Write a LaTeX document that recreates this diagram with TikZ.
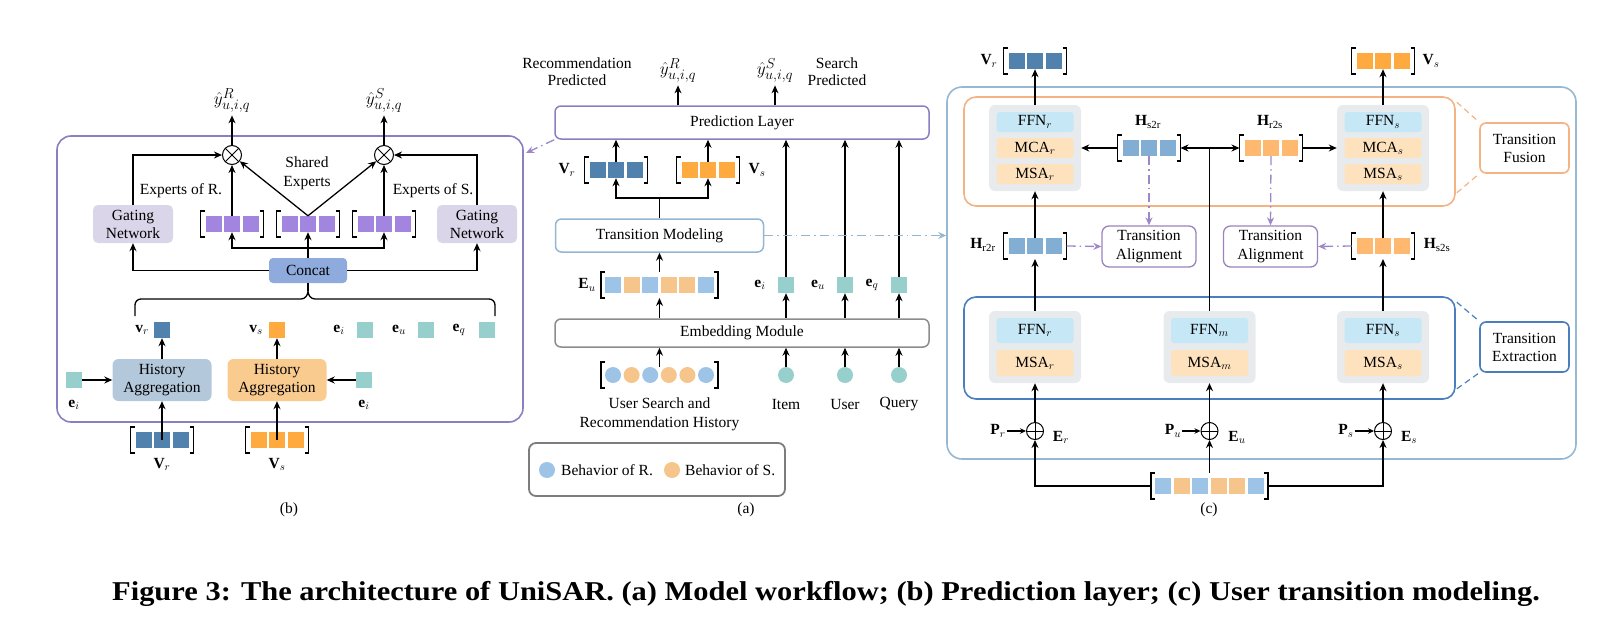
\documentclass[tikz,border=0pt]{standalone}
\usepackage{fontspec}
\setmainfont{Liberation Serif}
\newfontfamily\capfont[FakeStretch=1.12]{Liberation Serif}
\usetikzlibrary{arrows.meta,calc}
\definecolor{purpB}{RGB}{139,127,195}
\definecolor{gateC}{RGB}{218,213,232}
\definecolor{expC}{RGB}{161,133,222}
\definecolor{catC}{RGB}{143,170,220}
\definecolor{histB}{RGB}{180,200,220}
\definecolor{histO}{RGB}{250,203,143}
\definecolor{dBlue}{RGB}{80,130,173}
\definecolor{dOrng}{RGB}{255,170,62}
\definecolor{tealC}{RGB}{151,207,204}
\definecolor{lBlue}{RGB}{157,195,230}
\definecolor{lOrng}{RGB}{245,197,140}
\definecolor{tmC}{RGB}{148,182,208}
\definecolor{embC}{RGB}{140,140,140}
\definecolor{legC}{RGB}{125,125,125}
\definecolor{cOut}{RGB}{150,184,211}
\definecolor{fusC}{RGB}{245,178,130}
\definecolor{extC}{RGB}{74,126,190}
\definecolor{modC}{RGB}{232,235,237}
\definecolor{ffnC}{RGB}{197,231,246}
\definecolor{msaC}{RGB}{253,226,189}
\definecolor{hBlue}{RGB}{130,174,211}
\definecolor{hOrng}{RGB}{255,184,112}
\definecolor{taC}{RGB}{155,131,188}
\definecolor{daC}{RGB}{156,136,201}

\newcommand\vthree[4]{%
 \node[sq,fill=#4] (#1a) at (#2-18.5,#3) {};
 \node[sq,fill=#4] (#1) at (#2,#3) {};
 \node[sq,fill=#4] (#1c) at (#2+18.5,#3) {};
 \coordinate (#1L) at (#2-31.5,#3);
 \coordinate (#1R) at (#2+31.5,#3);
 \coordinate (#1T) at (#2,#3-13);
 \coordinate (#1B) at (#2,#3+13);
 \draw[brk] (#2-27.5,#3-13) -- ++(-4,0) -- ++(0,26) -- ++(4,0);
 \draw[brk] (#2+27.5,#3-13) -- ++(4,0) -- ++(0,26) -- ++(-4,0);
}
\newcommand\vsix[3]{%
 \node[sq,fill=lBlue] (#1a) at (#2-46.5,#3) {};
 \node[sq,fill=lOrng] (#1b) at (#2-27.9,#3) {};
 \node[sq,fill=lBlue] (#1c) at (#2-9.3,#3) {};
 \node[sq,fill=lOrng] (#1d) at (#2+9.3,#3) {};
 \node[sq,fill=lOrng] (#1e) at (#2+27.9,#3) {};
 \node[sq,fill=lBlue] (#1f) at (#2+46.5,#3) {};
 \coordinate (#1L) at (#2-58.5,#3);
 \coordinate (#1R) at (#2+58.5,#3);
 \coordinate (#1T) at (#2,#3-13);
 \coordinate (#1B) at (#2,#3+13);
 \draw[brk] (#2-54.5,#3-13) -- ++(-4,0) -- ++(0,26) -- ++(4,0);
 \draw[brk] (#2+54.5,#3-13) -- ++(4,0) -- ++(0,26) -- ++(-4,0);
}
\newcommand\vcirc[3]{%
 \node[cc,fill=lBlue] (#1a) at (#2-46.5,#3) {};
 \node[cc,fill=lOrng] (#1b) at (#2-27.9,#3) {};
 \node[cc,fill=lBlue] (#1c) at (#2-9.3,#3) {};
 \node[cc,fill=lOrng] (#1d) at (#2+9.3,#3) {};
 \node[cc,fill=lOrng] (#1e) at (#2+27.9,#3) {};
 \node[cc,fill=lBlue] (#1f) at (#2+46.5,#3) {};
 \coordinate (#1T) at (#2,#3-8);
 \draw[brk] (#2-54.5,#3-13) -- ++(-4,0) -- ++(0,26) -- ++(4,0);
 \draw[brk] (#2+54.5,#3-13) -- ++(4,0) -- ++(0,26) -- ++(-4,0);
}

\begin{document}
\begin{tikzpicture}[x=1pt,y=-1pt,
  every node/.style={font=\fontsize{15.5}{18}\selectfont},
  yh/.style={font=\fontsize{19}{22}\selectfont},
  arr/.style={-{Stealth[length=8pt,width=7pt]}, line width=1.3pt},
  arrS/.style={-{Stealth[length=6pt,width=5.5pt]}, line width=1.3pt},
  ln/.style={line width=1.3pt},
  brk/.style={line width=1.4pt},
  dshdt/.style={dash pattern=on 9pt off 4pt on 1.5pt off 4pt},
  sq/.style={minimum size=16pt, inner sep=0pt, draw=none},
  cc/.style={circle, minimum size=16pt, inner sep=0pt, draw=none},
  otim/.style={circle, draw, line width=1pt, minimum size=19pt, inner sep=0pt, fill=white,
    path picture={\draw[line width=1pt] (path picture bounding box.north west) -- (path picture bounding box.south east)
      (path picture bounding box.north east) -- (path picture bounding box.south west);}},
  opls/.style={circle, draw, line width=1pt, minimum size=17pt, inner sep=0pt, fill=white,
    path picture={\draw[line width=1pt] (path picture bounding box.north) -- (path picture bounding box.south)
      (path picture bounding box.east) -- (path picture bounding box.west);}},
  gate/.style={fill=gateC, rounded corners=5pt, minimum width=80pt, minimum height=38pt, align=center, inner sep=1pt},
  hist/.style={rounded corners=6pt, minimum width=99pt, minimum height=42pt, align=center, inner sep=1pt},
  rbox/.style={draw, rounded corners=6pt, line width=1.5pt, fill=white, inner sep=0pt},
  mod/.style={fill=modC, rounded corners=6pt, minimum width=92pt, inner sep=0pt},
  bar/.style={rounded corners=3pt, minimum width=77pt, inner sep=0pt},
  ta/.style={draw=taC, line width=1.3pt, rounded corners=7pt, minimum width=94pt, minimum height=41pt, align=center, inner sep=0pt, font=\fontsize{15.5}{19}\selectfont, fill=white},
  lab/.style={line width=1.6pt, rounded corners=6pt, minimum width=89pt, minimum height=50pt, align=center, inner sep=0pt, font=\fontsize{15.5}{18}\selectfont, fill=white}
]
\useasboundingbox (0,0) rectangle (1616,626);

% ================= Panel (b) =================
\node[draw=purpB, line width=1.6pt, rounded corners=14pt, minimum width=466pt, minimum height=286pt, inner sep=0pt] (boxB) at (290,279) {};
\node[yh] (yRb) at (232,100) {$\hat{y}^{R}_{u,i,q}$};
\node[yh] (ySb) at (384,100) {$\hat{y}^{S}_{u,i,q}$};
\node[otim] (oR) at (232,155) {};
\node[otim] (oS) at (384,155) {};
\draw[arr] (oR) -- (yRb);
\draw[arr] (oS) -- (ySb);
\node[gate] (gL) at (133,224) {Gating\\Network};
\node[gate] (gR) at (477,224) {Gating\\Network};
\draw[arr] (gL.north) |- (oR.west);
\draw[arr] (gR.north) |- (oS.east);
\node (expR) at (181,191) {Experts of R.};
\node (expS) at (433,191) {Experts of S.};
\node[align=center, font=\fontsize{15.5}{19}\selectfont] (expSh) at (307,173.5) {Shared\\Experts};
\vthree{exa}{232}{224}{expC}
\vthree{exb}{308}{224}{expC}
\vthree{exc}{384}{224}{expC}
\draw[arr] (exa.north) -- (oR);
\draw[arr] (exc.north) -- (oS);
\draw[arr] (exb.north) -- (oR);
\draw[arr] (exb.north) -- (oS);
\node[fill=catC, rounded corners=4pt, minimum width=78pt, minimum height=25pt, inner sep=0pt] (cat) at (308,270.5) {Concat};
\coordinate (spB) at (308,248);
\draw[arr] (cat.north) -- (exb.south);
\draw[arr] (spB) -| (exa.south);
\draw[arr] (spB) -| (exc.south);
\draw[arr] (cat.west) -| (gL.south);
\draw[arr] (cat.east) -| (gR.south);
\coordinate (brT) at (308,291);
\draw[ln] (135,316) -- (135,305) to[out=90,in=180] (141,299) -- (301,299) to[out=0,in=-90] (brT) to[out=-90,in=180] (315,299) -- (489,299) to[out=0,in=90] (495,305) -- (495,316);
\draw[ln] (brT) -- (cat.south);
\node (vrl) at (142,330) {$\mathbf{v}_r$};
\node[sq, fill=dBlue] (vr) at (162,330) {};
\node (vsl) at (256,330) {$\mathbf{v}_s$};
\node[sq, fill=dOrng] (vs) at (277,330) {};
\node (eil) at (339,330) {$\mathbf{e}_i$};
\node[sq, fill=tealC] (eib) at (365,330) {};
\node (eul) at (399,330) {$\mathbf{e}_u$};
\node[sq, fill=tealC] (eub) at (426,330) {};
\node (eql) at (459,330) {$\mathbf{e}_q$};
\node[sq, fill=tealC] (eqb) at (487,330) {};
\node[hist, fill=histB] (haL) at (162,380) {History\\Aggregation};
\node[hist, fill=histO] (haR) at (277,380) {History\\Aggregation};
\draw[arr] (haL.north) -- (vr.south);
\draw[arr] (haR.north) -- (vs.south);
\node[sq, fill=tealC] (eiL) at (74,380) {};
\node (eiLl) at (74,405) {$\mathbf{e}_i$};
\node[sq, fill=tealC] (eiR) at (364,380) {};
\node (eiRl) at (364,405) {$\mathbf{e}_i$};
\draw[arr] (eiL.east) -- (haL.west);
\draw[arr] (eiR.west) -- (haR.east);
\vthree{VrB}{162}{440}{dBlue}
\vthree{VsB}{277}{440}{dOrng}
\node (VrBl) at (162,464) {$\mathbf{V}_r$};
\node (VsBl) at (277,464) {$\mathbf{V}_s$};
\draw[arr] (VrB.center) -- (haL.south);
\draw[arr] (VsB.center) -- (haR.south);
\node (capb) at (289,510) {(b)};

% ================= Panel (a) =================
\node[align=center, font=\fontsize{15.5}{17}\selectfont] (recP) at (577,72) {Recommendation\\Predicted};
\node[yh] (yRa) at (678,70) {$\hat{y}^{R}_{u,i,q}$};
\node[yh] (ySa) at (775,70) {$\hat{y}^{S}_{u,i,q}$};
\node[align=center, font=\fontsize{15.5}{17}\selectfont] (seaP) at (837,72) {Search\\Predicted};
\node[rbox, draw=purpB, minimum width=374pt, minimum height=33pt] (PL) at (742,122.5) {Prediction Layer};
\draw[arr] (PL.north -| yRa) -- (yRa);
\draw[arr] (PL.north -| ySa) -- (ySa);
\node (VrAl) at (567,170) {$\mathbf{V}_r$};
\vthree{VrA}{616}{170}{dBlue}
\vthree{VsA}{708}{170}{dOrng}
\node (VsAl) at (757,170) {$\mathbf{V}_s$};
\draw[arr] (VrA.north) -- (VrA.north |- PL.south);
\draw[arr] (VsA.north) -- (VsA.north |- PL.south);
\node[rbox, draw=tmC, minimum width=208pt, minimum height=33pt] (TM) at (659.5,235.5) {Transition Modeling};
\coordinate (spA) at (659.5,198);
\draw[ln] (TM.north) -- (spA);
\draw[arr] (spA) -| (VrA.south);
\draw[arr] (spA) -| (VsA.south);
\node (EuAl) at (587,285) {$\mathbf{E}_u$};
\vsix{EuA}{659.5}{285}
\draw[arr] (EuAT) -- (TM.south);
\node (eiAl) at (760,285) {$\mathbf{e}_i$};
\node[sq,fill=tealC] (eiA) at (786,285) {};
\node (euAl) at (818,285) {$\mathbf{e}_u$};
\node[sq,fill=tealC] (euA) at (845,285) {};
\node (eqAl) at (872,285) {$\mathbf{e}_q$};
\node[sq,fill=tealC] (eqA) at (899,285) {};
\draw[arr] (eiA.north) -- (eiA.north |- PL.south);
\draw[arr] (euA.north) -- (euA.north |- PL.south);
\draw[arr] (eqA.north) -- (eqA.north |- PL.south);
\node[rbox, draw=embC, minimum width=374pt, minimum height=28pt] (Emb) at (742,333) {Embedding Module};
\draw[arr] (Emb.north -| EuAB) -- (EuAB);
\draw[arr] (Emb.north -| eiA) -- (eiA.south);
\draw[arr] (Emb.north -| euA) -- (euA.south);
\draw[arr] (Emb.north -| eqA) -- (eqA.south);
\vcirc{hA}{659.5}{375}
\draw[arr] (hAT) -- (Emb.south -| hAT);
\node[cc, fill=tealC] (item) at (786,375) {};
\node[cc, fill=tealC] (user) at (845,375) {};
\node[cc, fill=tealC] (query) at (899,375) {};
\draw[arr] (item.north) -- (item.north |- Emb.south);
\draw[arr] (user.north) -- (user.north |- Emb.south);
\draw[arr] (query.north) -- (query.north |- Emb.south);
\node[align=center, font=\fontsize{15.5}{19}\selectfont] (hisL) at (659.5,414.5) {User Search and\\Recommendation History};
\node (itemL) at (786,404) {Item};
\node (userL) at (845,404) {User};
\node (queryL) at (899,404) {Query};
\node[draw=legC, line width=1.8pt, rounded corners=7pt, minimum width=256pt, minimum height=53pt, inner sep=0pt] (leg) at (657,469.5) {};
\node[cc, fill=lBlue] (lgB) at (547,470) {};
\node[anchor=west, inner sep=0pt] (lgBt) at (561,470) {Behavior of R.};
\node[cc, fill=lOrng] (lgO) at (672,470) {};
\node[anchor=west, inner sep=0pt] (lgOt) at (685,470) {Behavior of S.};
\node (capa) at (746,510) {(a)};
\coordinate (bEnd) at (526,153);
\draw[arr, dshdt, color=daC] (PL.south west) -- (bEnd);

% ================= Panel (c) =================
\node[draw=cOut, line width=1.6pt, rounded corners=15pt, minimum width=629pt, minimum height=372pt, inner sep=0pt] (boxC) at (1261.5,273) {};
\draw[arr, dshdt, color=tmC] (TM.east) -- (TM.east -| boxC.west);
\node[draw=fusC, line width=1.6pt, rounded corners=12pt, minimum width=491pt, minimum height=109pt, inner sep=0pt] (F) at (1209.5,151.5) {};
\node[draw=extC, line width=1.6pt, rounded corners=12pt, minimum width=491pt, minimum height=102pt, inner sep=0pt] (X) at (1209.5,348) {};
\node[lab, draw=fusC] (TF) at (1524.5,148) {Transition\\Fusion};
\node[lab, draw=extC] (TX) at (1524.5,347) {Transition\\Extraction};
\draw[fusC, line width=1.2pt, dash pattern=on 6pt off 4pt] ($(F.north east)+(1,6)$) -- (TF.north west);
\draw[fusC, line width=1.2pt, dash pattern=on 6pt off 4pt] ($(F.south east)+(1,-14)$) -- (TF.south west);
\draw[extC, line width=1.2pt, dash pattern=on 6pt off 4pt] ($(X.north east)+(1,6)$) -- (TX.north west);
\draw[extC, line width=1.2pt, dash pattern=on 6pt off 4pt] ($(X.south east)+(1,-11)$) -- (TX.south west);
% fusion modules
\node[mod, minimum height=86pt] (fmL) at (1035,148) {};
\node[bar, fill=ffnC, minimum height=20pt] (fLa) at (1035,122) {FFN$_r$};
\node[bar, fill=msaC, minimum height=20pt] (fLb) at (1035,148) {MCA$_r$};
\node[bar, fill=msaC, minimum height=20pt] (fLc) at (1035,174) {MSA$_r$};
\node[mod, minimum height=86pt] (fmR) at (1383,148) {};
\node[bar, fill=ffnC, minimum height=20pt] (fRa) at (1383,122) {FFN$_s$};
\node[bar, fill=msaC, minimum height=20pt] (fRb) at (1383,148) {MCA$_s$};
\node[bar, fill=msaC, minimum height=20pt] (fRc) at (1383,174) {MSA$_s$};
% top outputs
\node (VrCl) at (989,61) {$\mathbf{V}_r$};
\vthree{VrC}{1035}{61}{dBlue}
\vthree{VsC}{1383}{61}{dOrng}
\node (VsCl) at (1431,61) {$\mathbf{V}_s$};
\draw[arr] (fmL.north) -- (VrC.south);
\draw[arr] (fmR.north) -- (VsC.south);
% cross vectors
\node (Hsrl) at (1148,122) {$\mathbf{H}_{\mathrm{s2r}}$};
\vthree{Hsr}{1149}{148}{hBlue}
\node (Hrsl) at (1270,122) {$\mathbf{H}_{\mathrm{r2s}}$};
\vthree{Hrs}{1271}{148}{hOrng}
% extraction modules
\node[mod, minimum height=72pt] (xmL) at (1035,347) {};
\node[bar, fill=ffnC, minimum height=25pt] (xLa) at (1035,330.5) {FFN$_r$};
\node[bar, fill=msaC, minimum height=26pt] (xLb) at (1035,363) {MSA$_r$};
\node[mod, minimum height=72pt] (xmM) at (1209.5,347) {};
\node[bar, fill=ffnC, minimum height=25pt] (xMa) at (1209.5,330.5) {FFN$_m$};
\node[bar, fill=msaC, minimum height=26pt] (xMb) at (1209.5,363) {MSA$_m$};
\node[mod, minimum height=72pt] (xmR) at (1383,347) {};
\node[bar, fill=ffnC, minimum height=25pt] (xRa) at (1383,330.5) {FFN$_s$};
\node[bar, fill=msaC, minimum height=26pt] (xRb) at (1383,363) {MSA$_s$};
\coordinate (jn) at (1209.5,148);
\draw[ln] (xmM.north) -- (jn);
\draw[arr] (jn) -- (HsrR);
\draw[arr] (jn) -- (HrsL);
\draw[arr] (HsrL) -- (fmL.east);
\draw[arr] (HrsR) -- (fmR.west);
\node[ta] (TAl) at (1149,246.5) {Transition\\Alignment};
\node[ta] (TAr) at (1270.5,246.5) {Transition\\Alignment};
\draw[arr, dshdt, color=daC] (Hsr.south) -- (TAl.north);
\draw[arr, dshdt, color=daC] (Hrs.south) -- (TAr.north);
\node (Hrrl) at (983,245) {$\mathbf{H}_{\mathrm{r2r}}$};
\vthree{Hrr}{1035}{246}{hBlue}
\vthree{Hss}{1383}{246}{hOrng}
\node (Hssl) at (1437,245) {$\mathbf{H}_{\mathrm{s2s}}$};
\draw[arr, dshdt, color=daC] (HrrR) -- (TAl.west);
\draw[arr, dshdt, color=daC] (HssL) -- (TAr.east);
\draw[arr] (Hrr.north) -- (fmL.south);
\draw[arr] (Hss.north) -- (fmR.south);
\draw[arr] (xmL.north) -- (HrrB);
\draw[arr] (xmR.north) -- (HssB);
% sums
\node[opls] (pL) at (1035,431) {};
\node[opls] (pM) at (1209.5,431) {};
\node[opls] (pR) at (1383,431) {};
\draw[arr] (pL.north) -- (xmL.south);
\draw[arr] (pM.north) -- (xmM.south);
\draw[arr] (pR.north) -- (xmR.south);
\node[inner sep=1pt] (PrL) at (998,431) {$\mathbf{P}_r$};
\node (ErL) at (1061,437) {$\mathbf{E}_r$};
\node[inner sep=1pt] (PuL) at (1173,431) {$\mathbf{P}_u$};
\node (EuL) at (1237,437) {$\mathbf{E}_u$};
\node[inner sep=1pt] (PsL) at (1346,431) {$\mathbf{P}_s$};
\node (EsL) at (1409,437) {$\mathbf{E}_s$};
\draw[arrS] (PrL.east) -- (pL.west);
\draw[arrS] (PuL.east) -- (pM.west);
\draw[arrS] (PsL.east) -- (pR.west);
\vsix{bv}{1209.5}{486}
\draw[arr] (bvL) -| (pL.south);
\draw[arr] (bvR) -| (pR.south);
\draw[arr] (bvT) -- (pM.south);
\node (capc) at (1209,510) {(c)};

% caption
\node[font=\capfont\fontsize{27.2}{31}\selectfont\bfseries] (cap) at (826,594) {Figure 3: The architecture of UniSAR. (a) Model workflow; (b) Prediction layer; (c) User transition modeling.};
\end{tikzpicture}
\end{document}
